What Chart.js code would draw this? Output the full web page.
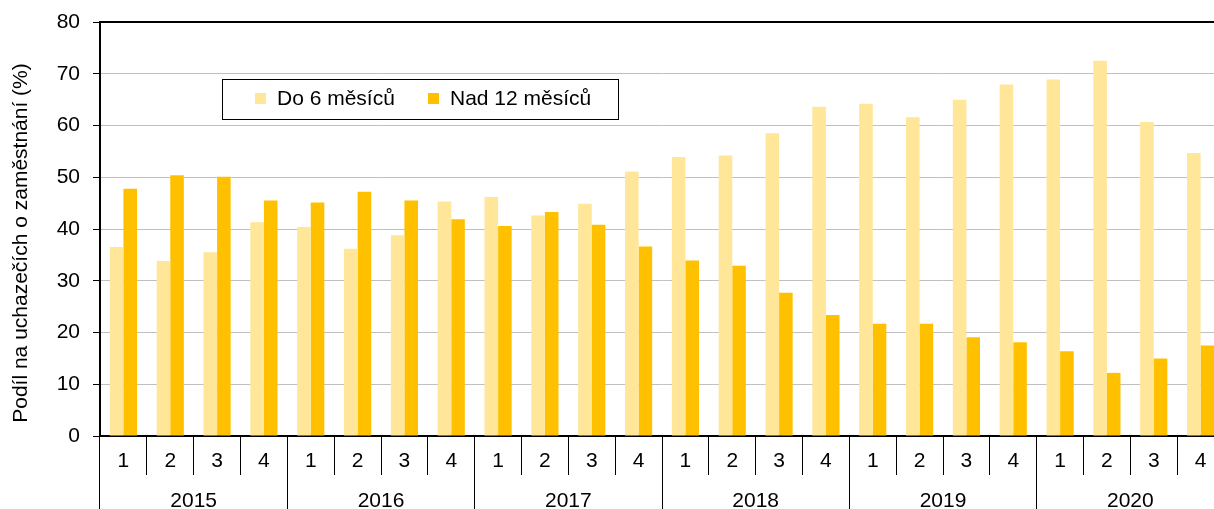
<!DOCTYPE html>
<html>
<head>
<meta charset="utf-8">
<script src="https://cdn.jsdelivr.net/npm/chart.js@4/dist/chart.umd.min.js"></script>
<style>
  html, body { margin: 0; padding: 0; background: #ffffff; overflow: hidden; }
  #wrap { width: 1226px; height: 509px; }
</style>
</head>
<body>
<div id="wrap"><canvas id="c" width="1226" height="509"></canvas></div>
<script>
const quarters = ['1','2','3','4','1','2','3','4','1','2','3','4','1','2','3','4','1','2','3','4','1','2','3','4'];
const years = ['2015','2016','2017','2018','2019','2020'];
const do6 = [36.5, 33.8, 35.5, 41.3, 40.4, 36.2, 38.8, 45.3, 46.2, 42.6, 44.9, 51.1, 53.9, 54.2, 58.5, 63.6, 64.2, 61.6, 65.0, 67.9, 68.9, 72.5, 60.7, 54.7];
const nad12 = [47.8, 50.4, 50.1, 45.5, 45.1, 47.2, 45.5, 41.9, 40.6, 43.3, 40.8, 36.6, 33.9, 32.9, 27.7, 23.4, 21.7, 21.7, 19.1, 18.1, 16.4, 12.2, 15.0, 17.5];
const seriesNames = ['Do 6 měsíců', 'Nad 12 měsíců'];
const yTitle = 'Podíl na uchazečích o zaměstnání (%)';

const FONT = '"Liberation Sans", Arial, sans-serif';

const framePlugin = {
  id: 'frame',
  afterDraw(chart) {
    const ctx = chart.ctx, a = chart.chartArea;
    ctx.save();
    ctx.strokeStyle = '#000';
    ctx.lineWidth = 2;
    ctx.beginPath();
    ctx.moveTo(a.left, a.top);
    ctx.lineTo(a.right, a.top);
    ctx.lineTo(a.right, a.bottom);
    ctx.stroke();
    // y-axis title
    ctx.fillStyle = '#000';
    ctx.font = '21px ' + FONT;
    ctx.textAlign = 'center';
    ctx.textBaseline = 'middle';
    ctx.translate(21, 243);
    ctx.rotate(-Math.PI / 2);
    ctx.fillText(yTitle, 0, 0);
    ctx.restore();
  }
};

const legendPlugin = {
  id: 'boxLegend',
  afterDraw(chart) {
    const ctx = chart.ctx;
    ctx.save();
    ctx.fillStyle = '#fff';
    ctx.fillRect(222, 79, 396, 41);
    ctx.strokeStyle = '#000';
    ctx.lineWidth = 1;
    ctx.strokeRect(222.5, 79.5, 396, 40);
    ctx.font = '21px ' + FONT;
    ctx.textBaseline = 'middle';
    ctx.textAlign = 'left';
    const sq = [255, 428], tx = [277, 450];
    chart.data.datasets.forEach((ds, i) => {
      ctx.fillStyle = ds.backgroundColor;
      ctx.fillRect(sq[i], 93, 11, 11);
      ctx.fillStyle = '#000';
      ctx.fillText(ds.label, tx[i], 99);
    });
    ctx.restore();
  }
};

new Chart(document.getElementById('c'), {
  type: 'bar',
  data: {
    labels: quarters,
    datasets: [
      { label: seriesNames[0], data: do6, backgroundColor: '#FFE699', borderWidth: 0, categoryPercentage: 0.58, barPercentage: 1.0 },
      { label: seriesNames[1], data: nad12, backgroundColor: '#FFC000', borderWidth: 0, categoryPercentage: 0.58, barPercentage: 1.0 }
    ]
  },
  options: {
    responsive: false,
    animation: false,
    devicePixelRatio: 1,
    layout: { padding: { top: 22, right: 2, bottom: 0, left: 0 } },
    plugins: { legend: { display: false }, tooltip: { enabled: false } },
    scales: {
      y: {
        min: 0, max: 80,
        ticks: { stepSize: 10, color: '#000', font: { size: 21, family: FONT, lineHeight: 0.6 }, padding: 13 },
        grid: { color: '#c0c0c0', lineWidth: 1, tickColor: '#000', tickLength: 7 },
        border: { display: true, color: '#000', width: 2 },
        afterFit(s) { s.width = 100; }
      },
      x: {
        type: 'category',
        position: 'bottom',
        offset: true,
        ticks: { color: '#000', font: { size: 21, family: FONT }, padding: -26, maxRotation: 0, autoSkip: false },
        grid: { offset: true, drawOnChartArea: false, color: '#000', lineWidth: 1, tickLength: 39 },
        border: { display: true, color: '#000', width: 2 },
        afterFit(s) { s.height = 39; }
      },
      x2: {
        type: 'category',
        position: 'bottom',
        labels: years,
        offset: true,
        ticks: { color: '#000', font: { size: 21, family: FONT }, padding: -26.6, maxRotation: 0, autoSkip: false },
        grid: { offset: true, drawOnChartArea: false, color: '#000', lineWidth: 1, tickLength: 40 },
        border: { display: false },
        afterFit(s) { s.height = 34; }
      }
    }
  },
  plugins: [framePlugin, legendPlugin]
});
</script>
</body>
</html>
